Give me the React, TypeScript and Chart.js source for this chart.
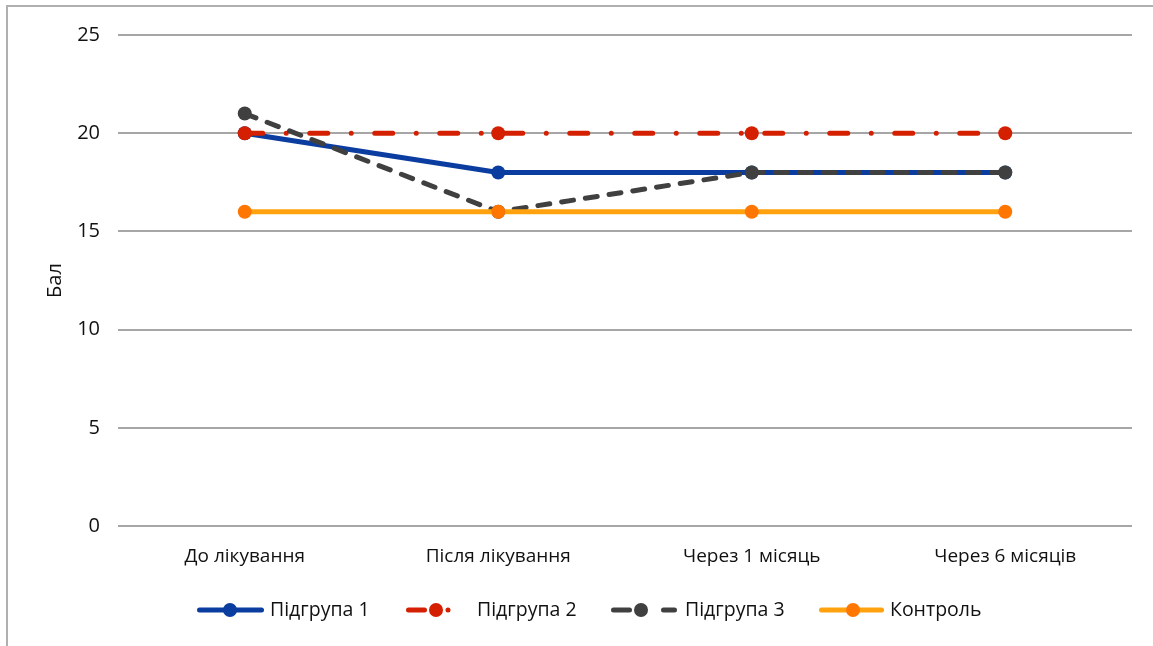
import { useEffect, useRef } from 'react';
import { Chart, registerables } from 'chart.js';

Chart.register(...registerables);

const categories = ['До лікування', 'Після лікування', 'Через 1 місяць', 'Через 6 місяців'];
const seriesNames = ['Підгрупа 1', 'Підгрупа 2', 'Підгрупа 3', 'Контроль'];
const subgroup1 = [20, 18, 18, 18];
const subgroup2 = [20, 20, 20, 20];
const subgroup3 = [21, 16, 18, 18];
const control = [16, 16, 16, 16];
const yTicks = [0, 5, 10, 15, 20, 25];
const yTitle = 'Бал';

const FONT = '"Open Sans", "Noto Sans", sans-serif';

const lineColors = ['#0b3c9f', '#d42000', '#404040', '#ffa20d'];
const pointColors = ['#0b3c9f', '#d42000', '#404040', '#ff7600'];
const lineDashes: number[][] = [[], [18, 23.5, 0.001, 23.5], [12, 12], []];

// legend layout (pixel placement of the drawn legend)
const legendLayout = [
  { x0: 199.5, x1: 261.5, mx: 230, tx: 270, dash: [] as number[] },
  { x0: 408.5, x1: 449, mx: 436, tx: 477, dash: [16, 23.5, 0.001, 100] },
  { x0: 613.5, x1: 675, mx: 641, tx: 685, dash: [16, 34, 11, 100] },
  { x0: 821.5, x1: 881.5, mx: 853, tx: 890, dash: [] as number[] },
];

const framePlugin = {
  id: 'frame',
  beforeDraw(chart: any) {
    const ctx = chart.ctx;
    ctx.save();
    ctx.fillStyle = '#ffffff';
    ctx.fillRect(0, 0, chart.width, chart.height);
    ctx.strokeStyle = '#b0b0b0';
    ctx.lineWidth = 2;
    ctx.beginPath();
    ctx.moveTo(7, chart.height);
    ctx.lineTo(7, 6);
    ctx.lineTo(chart.width, 6);
    ctx.stroke();
    ctx.restore();
  },
};

const legendPlugin = {
  id: 'customLegend',
  afterDraw(chart: any) {
    const ctx = chart.ctx;
    const y = 610;
    ctx.save();
    legendLayout.forEach((it, i) => {
      ctx.strokeStyle = lineColors[i];
      ctx.lineWidth = 5;
      ctx.lineCap = 'round';
      ctx.setLineDash(it.dash);
      ctx.beginPath();
      ctx.moveTo(it.x0, y);
      ctx.lineTo(it.x1, y);
      ctx.stroke();
      ctx.setLineDash([]);
      ctx.fillStyle = pointColors[i];
      ctx.beginPath();
      ctx.arc(it.mx, y, 7, 0, Math.PI * 2);
      ctx.fill();
      ctx.fillStyle = '#111111';
      ctx.font = `19.5px ${FONT}`;
      ctx.textBaseline = 'middle';
      ctx.textAlign = 'left';
      ctx.fillText(seriesNames[i], it.tx, y);
    });
    ctx.restore();
  },
};

export default function App() {
  const ref = useRef<HTMLCanvasElement | null>(null);

  useEffect(() => {
    document.body.style.margin = '0';
    const canvas = ref.current;
    if (!canvas) return;
    const values = [subgroup1, subgroup2, subgroup3, control];
    const chart = new Chart(canvas, {
      type: 'line',
      data: {
        labels: categories,
        datasets: values.map((v, i) => ({
          label: seriesNames[i],
          data: v,
          borderColor: lineColors[i],
          backgroundColor: pointColors[i],
          borderWidth: 5,
          borderDash: lineDashes[i],
          borderCapStyle: 'round',
          borderJoinStyle: 'round',
          pointRadius: 7,
          pointHoverRadius: 7,
          pointBorderWidth: 0,
          pointBackgroundColor: pointColors[i],
          pointBorderColor: pointColors[i],
          tension: 0,
          fill: false,
          order: 4 - i,
        })),
      },
      options: {
        animation: false,
        responsive: false,
        maintainAspectRatio: false,
        layout: { padding: { left: 43, right: 21, top: 35, bottom: 0 } },
        plugins: {
          legend: { display: false },
          tooltip: { enabled: false },
        },
        scales: {
          x: {
            type: 'category',
            offset: true,
            grid: { display: false, drawTicks: false },
            border: { display: false },
            ticks: {
              padding: 19,
              color: '#111111',
              font: { family: FONT, size: 19 },
              maxRotation: 0,
            },
            afterFit: (axis: any) => {
              axis.height = 120;
            },
          },
          y: {
            min: 0,
            max: 25,
            afterBuildTicks: (axis: any) => {
              axis.ticks = yTicks.map((v) => ({ value: v }));
            },
            grid: { color: '#a6a6a6', lineWidth: 2, drawTicks: false },
            border: { display: false },
            ticks: {
              padding: 18,
              color: '#111111',
              font: { family: FONT, size: 20 },
            },
            title: {
              display: true,
              text: yTitle,
              color: '#111111',
              font: { family: FONT, size: 20 },
              padding: 0,
            },
            afterFit: (axis: any) => {
              axis.width = 75;
            },
          },
        },
      },
      plugins: [framePlugin, legendPlugin],
    });
    return () => chart.destroy();
  }, []);

  return <canvas ref={ref} width={1153} height={646} style={{ display: 'block' }} />;
}
